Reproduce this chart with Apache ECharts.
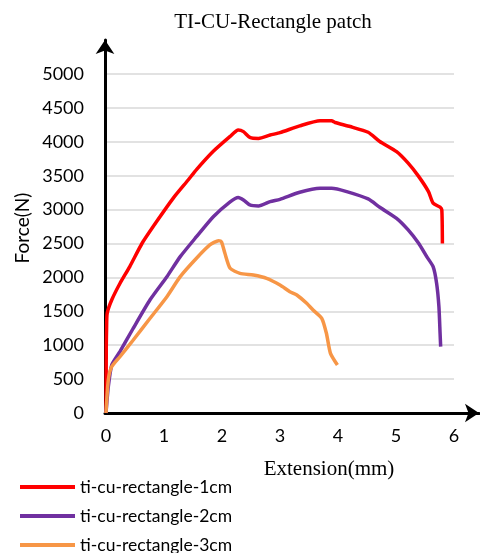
<!DOCTYPE html>
<html>
<head>
<meta charset="utf-8">
<script src="https://cdn.jsdelivr.net/npm/echarts@6/dist/echarts.min.js"></script>
<style>
  html, body { margin: 0; padding: 0; background: #fff; }
  #chart { width: 480px; height: 553px; }
</style>
</head>
<body>
<div id="chart"></div>
<script>
// extension (mm), force (N)
const seriesNames = ["ti-cu-rectangle-1cm", "ti-cu-rectangle-2cm", "ti-cu-rectangle-3cm"];
const seriesColors = ["#ff0000", "#7030a0", "#f79646"];

const rect1cm = [
    [0, 0], [0.005, 1000], [0.01, 1250], [0.02, 1470], [0.1, 1670], [0.24, 1910],
    [0.41, 2160], [0.62, 2500], [0.87, 2820], [1.16, 3170], [1.42, 3440], [1.56, 3590],
    [1.85, 3860], [2.14, 4080], [2.28, 4175], [2.37, 4150], [2.48, 4065], [2.63, 4050],
    [2.83, 4100], [3.0, 4135], [3.34, 4235], [3.69, 4310], [3.89, 4310], [3.95, 4285],
    [4.21, 4225], [4.52, 4140], [4.72, 4005], [5.01, 3855], [5.21, 3685], [5.39, 3490],
    [5.56, 3265], [5.64, 3095], [5.76, 3035], [5.79, 2995], [5.80, 2500]
];
const rect2cm = [
    [0, 0], [0.04, 390], [0.1, 710], [0.24, 905], [0.47, 1250], [0.76, 1670],
    [1.05, 2010], [1.28, 2306], [1.56, 2600], [1.85, 2895], [2.14, 3115], [2.28, 3180],
    [2.37, 3142], [2.48, 3068], [2.63, 3053], [2.83, 3117], [3.0, 3152], [3.34, 3255],
    [3.69, 3314], [3.89, 3314], [4.15, 3265], [4.52, 3157], [4.72, 3034], [5.01, 2871],
    [5.21, 2700], [5.39, 2503], [5.53, 2306], [5.64, 2158], [5.70, 1913], [5.74, 1568],
    [5.76, 1176], [5.77, 978]
];
const rect3cm = [
    [0, 0], [0.04, 490], [0.1, 685], [0.24, 830], [0.47, 1077], [0.76, 1397],
    [1.05, 1716], [1.28, 2011], [1.56, 2282], [1.79, 2478], [1.94, 2542], [1.99, 2527],
    [2.05, 2355], [2.14, 2134], [2.31, 2060], [2.54, 2035], [2.77, 1987], [3.0, 1888],
    [3.17, 1790], [3.29, 1741], [3.46, 1618], [3.57, 1519], [3.72, 1397], [3.80, 1176],
    [3.87, 880], [3.99, 708]
];

const chart = echarts.init(document.getElementById("chart"));
const sans = "Lato";
const serif = "Liberation Serif";

// arrowed axis line (drawn on a second, label-less grid)
const arrowLine = {
    show: true,
    onZero: false,
    symbol: ["none", "arrow"],
    symbolSize: [14, 14],
    lineStyle: { color: "#000", width: 3 },
};

let option = {
    backgroundColor: "#fff",
    animation: false,
    title: [
        {
            text: "TI-CU-Rectangle patch",
            left: 268,
            top: 7,
            textAlign: "center",
            textStyle: { fontFamily: serif, fontSize: 21, fontWeight: "normal", color: "#000" },
        },
        {
            text: "Extension(mm)",
            left: 324,
            top: 454,
            textAlign: "center",
            textStyle: { fontFamily: serif, fontSize: 21, fontWeight: "normal", color: "#000" },
        },
    ],
    graphic: [
        {
            type: "text",
            x: 23,
            y: 228,
            rotation: Math.PI / 2,
            style: {
                text: "Force(N)",
                fontFamily: sans,
                fontSize: 19,
                fill: "#000",
                align: "center",
                verticalAlign: "middle",
            },
        },
    ],
    legend: {
        orient: "vertical",
        left: 20,
        top: 478,
        height: 120,
        padding: 0,
        itemGap: 11,
        itemWidth: 55,
        itemHeight: 4,
        icon: "rect",
        data: seriesNames,
        textStyle: { fontFamily: sans, fontSize: 17.5, color: "#000" },
    },
    grid: [
        { left: 106, right: 26, top: 74, bottom: 140 },
        { left: 105, right: 1, top: 40, bottom: 140 },
    ],
    xAxis: [
        {
            type: "value",
            min: 0,
            max: 6,
            interval: 1,
            axisLine: { show: false },
            axisTick: { show: false },
            splitLine: { show: false },
            axisLabel: { margin: 14, fontFamily: sans, fontSize: 18, color: "#000" },
        },
        {
            type: "value",
            gridIndex: 1,
            min: 0,
            max: 1,
            axisLine: arrowLine,
            axisTick: { show: false },
            splitLine: { show: false },
            axisLabel: { show: false },
        },
    ],
    yAxis: [
        {
            type: "value",
            min: 0,
            max: 5000,
            interval: 500,
            axisLine: { show: false },
            axisTick: { show: false },
            splitLine: { lineStyle: { color: "#d9d9d9", width: 1.5 } },
            axisLabel: {
                margin: 22,
                fontFamily: sans,
                fontSize: 18,
                color: "#000",
                formatter: function (v) { return String(v); },
            },
        },
        {
            type: "value",
            gridIndex: 1,
            min: 0,
            max: 1,
            axisLine: arrowLine,
            axisTick: { show: false },
            splitLine: { show: false },
            axisLabel: { show: false },
        },
    ],
    series: [rect1cm, rect2cm, rect3cm].map(function (d, i) {
        return {
            name: seriesNames[i],
            type: "line",
            data: d,
            smooth: 0.2,
            symbol: "none",
            z: 5,
            color: seriesColors[i],
            lineStyle: { color: seriesColors[i], width: 3.5 },
        };
    }),
};
chart.setOption(option);
</script>
</body>
</html>
